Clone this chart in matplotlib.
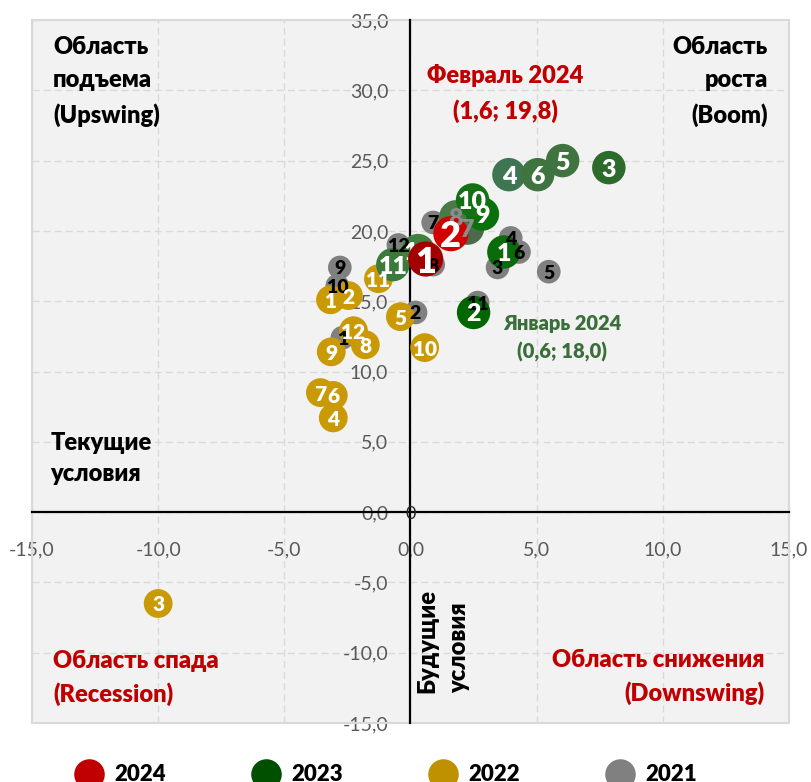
import matplotlib
matplotlib.use('Agg')
import matplotlib.pyplot as plt
from matplotlib.lines import Line2D
from matplotlib.patches import Rectangle
from matplotlib.ticker import FuncFormatter

plt.rcParams['font.family'] = ['Lato', 'DejaVu Sans']

# ---- data ----
months = [1, 2, 3, 4, 5, 6, 7, 8, 9, 10, 11, 12]
x_2021 = [-2.7, 0.2, 3.45, 3.97, 5.48, 4.3, 0.9, 0.9, -2.8, -2.9, 2.66, -0.48]
y_2021 = [12.4, 14.2, 17.4, 19.5, 17.1, 18.5, 20.6, 17.6, 17.4, 16.1, 14.9, 19.0]
x_2022 = [-3.17, -2.46, -10.0, -3.06, -0.4, -3.06, -3.57, -1.79, -3.14, 0.56, -1.27, -2.26]
y_2022 = [15.1, 15.4, -6.5, 6.7, 13.9, 8.3, 8.5, 11.9, 11.4, 11.7, 16.6, 12.9]
x_2023 = [3.7, 2.5, 7.86, 3.9, 6.03, 5.04, 2.26, 1.8, 2.85, 2.46, -0.7, 0.3]
y_2023 = [18.5, 14.2, 24.5, 24.0, 25.0, 24.0, 20.2, 21.0, 21.2, 22.2, 17.6, 18.6]
x_2024 = [0.6, 1.6]
y_2024 = [18.0, 19.8]
years = ['2024', '2023', '2022', '2021']
x_ticks = [-15, -10, -5, 0, 5, 10, 15]
y_ticks = [-15, -10, -5, 0, 5, 10, 15, 20, 25, 30, 35]

# ---- styles ----
c_2024 = ['#a30000', '#d00000']
c_2023 = ['#0a6b0a', '#006600', '#2d6b2d', '#3d7650', '#3f7440', '#3f7440',
          '#4a6a4a', '#4a7a4a', '#0a700a', '#157015', '#3a7a3a', '#3f7f3f']
lbl_2023 = ['white'] * 6 + ['#8c8c8c', '#8c8c8c'] + ['white'] * 4
z_2023 = [10] * 11 + [5.5]
legend_colors = ['#c00000', '#005000', '#bf9000', '#808080']
W = 'heavy'

fig = plt.figure(figsize=(8.12, 7.82), dpi=100)
ax = fig.add_axes([32 / 812, 59 / 782, 757 / 812, 703 / 782])
ax.set_facecolor('#f2f2f2')
ax.set_xlim(-15, 15)
ax.set_ylim(-15, 35)
fmt = FuncFormatter(lambda v, p: f'{v:.1f}'.replace('.', ','))
ax.set_xticks(x_ticks)
ax.set_yticks(y_ticks)
ax.xaxis.set_major_formatter(fmt)
ax.yaxis.set_major_formatter(fmt)
ax.grid(True, color='#d9d9d9', lw=1.0, linestyle=(0, (5, 3)), zorder=0)
ax.set_axisbelow(True)

for s in ['top', 'right']:
    ax.spines[s].set_visible(False)
for s in ['left', 'bottom']:
    ax.spines[s].set_position('zero')
    ax.spines[s].set_color('black')
    ax.spines[s].set_linewidth(1.6)
    ax.spines[s].set_zorder(2)
ax.tick_params(axis='both', length=0, labelsize=14, labelcolor='#595959')
ax.tick_params(axis='y', pad=16)
ax.tick_params(axis='x', pad=21)
ax.add_patch(Rectangle((0, 0), 1, 1, transform=ax.transAxes, fill=False,
                       ec='#d9d9d9', lw=1.5, zorder=1, clip_on=False))

# ---- points ----
def draw(xs, ys, colors, size, z):
    ax.scatter(xs, ys, s=size, c=colors, edgecolors='none', zorder=z)

def labels(xs, ys, colors, fs, zs=None):
    zs = zs or [10] * len(xs)
    for m, xv, yv, col, z in zip(months, xs, ys, colors, zs):
        ax.text(xv, yv, str(m), ha='center', va='center_baseline', fontsize=fs,
                color=col, fontweight=W, zorder=z)

draw(x_2021, y_2021, '#808080', 290, 3)
draw(x_2022, y_2022, '#c99a06', 430, 4)
draw(x_2023, y_2023, c_2023, 580, 5)
draw(x_2024, y_2024, c_2024, 640, 6)

labels(x_2021, y_2021, ['black'] * 12, 14)
labels(x_2022, y_2022, ['white'] * 12, 15)
labels(x_2023, y_2023, lbl_2023, 18, z_2023)
labels(x_2024, y_2024, ['white'] * 2, 26)

ax.text(0, 0, '0', ha='center', va='center_baseline', fontsize=13, color='#262626', zorder=10)

# ---- annotations ----
kw = dict(fontweight=W, transform=ax.transAxes, zorder=11, fontsize=17)
ax.text(0.028, 0.977, 'Область\nподъема\n(Upswing)', ha='left', va='top',
        color='black', linespacing=1.62, **kw)
ax.text(0.972, 0.977, 'Область\nроста\n(Boom)', ha='right', va='top',
        color='black', linespacing=1.62, multialignment='right', **kw)
ax.text(0.625, 0.937, 'Февраль 2024\n(1,6; 19,8)', ha='center', va='top',
        color='#c00000', linespacing=1.62, multialignment='center', **kw)
ax.text(0.024, 0.414, 'Текущие\nусловия', ha='left', va='top',
        color='black', linespacing=1.52, **kw)
ax.text(0.028, 0.024, 'Область спада\n(Recession)', ha='left', va='bottom',
        color='#c00000', linespacing=1.52, **kw)
ax.text(0.968, 0.026, 'Область снижения\n(Downswing)', ha='right', va='bottom',
        color='#c00000', linespacing=1.52, multialignment='right', **kw)
ax.text(0.508, 0.043, 'Будущие\nусловия', ha='left', va='bottom', rotation=90,
        color='black', linespacing=1.55, multialignment='left', **kw)
kw['fontsize'] = 14.5
ax.text(0.700, 0.582, 'Январь 2024\n(0,6; 18,0)', ha='center', va='top',
        color='#3b6e3b', linespacing=1.55, multialignment='center', **kw)

# ---- legend ----
handles = [Line2D([], [], marker='o', linestyle='none', markersize=22,
                  markerfacecolor=c, markeredgecolor='none') for c in legend_colors]
fig.legend(handles, years, loc='center', bbox_to_anchor=(0.477, 0.009),
           ncol=4, frameon=False, handlelength=1.0, handletextpad=0.64,
           columnspacing=4.0, prop={'family': ['Lato', 'DejaVu Sans'],
                                    'weight': W, 'size': 16})

fig.savefig('out.png', dpi=100, facecolor='white')
